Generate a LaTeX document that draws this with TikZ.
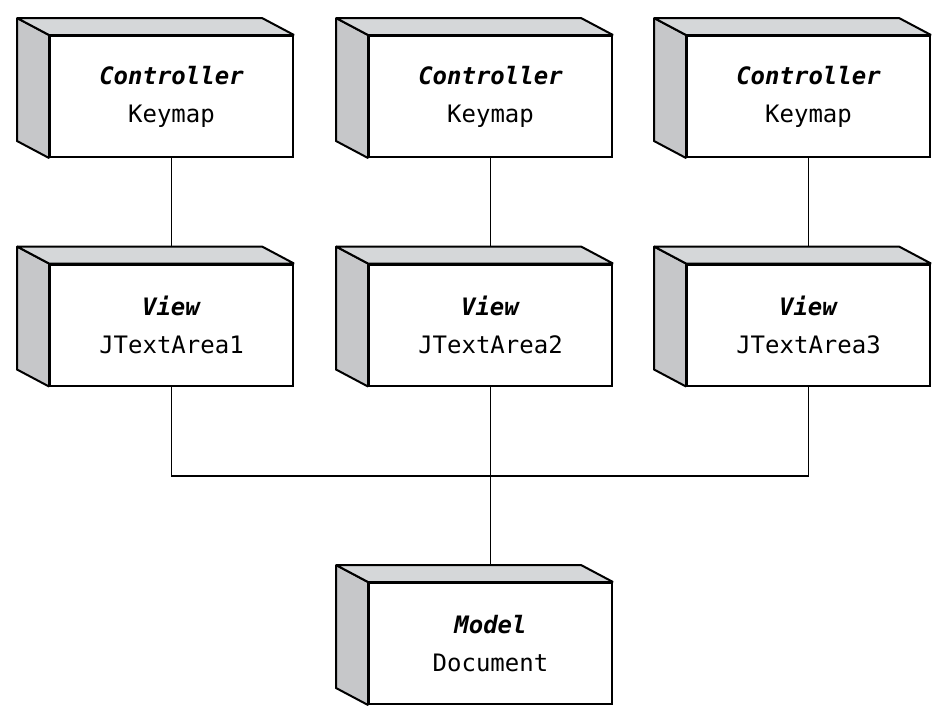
\documentclass[tikz,border=0pt]{standalone}
\usepackage{fontspec}
\setmonofont{DejaVu Sans Mono}
\usepackage{xcolor}
\usepackage{tikz}
\usetikzlibrary{
    positioning,
    calc,
    backgrounds,
}
\definecolor{sidegray}{RGB}{198,199,201}
\definecolor{topgray}{RGB}{213,215,217}
\tikzset{
    % Box styles
    crate/.style={rectangle, draw, line width=2pt, fill=white,
                  minimum width=243pt, minimum height=121pt, inner sep=0pt,
                  align=center, font=\ttfamily\fontsize{24}{38}\selectfont},
    face/.style={draw, line width=2pt, line join=miter, miter limit=1.5},
    % Connector styles
    link/.style={line width=1.8pt},
}
\newcommand{\role}[1]{\textbf{\textit{#1}}}

\begin{document}
\begin{tikzpicture}[x=1pt, y=-1pt]
    \useasboundingbox (0,0) rectangle (940,720);

    % Controllers and views
    \foreach \x/\i in {171.5/1, 490.5/2, 808.5/3} {
        \node[crate] (ctrl\i) at (\x, 96.5) {\role{Controller}\\Keymap};
        \node[crate] (view\i) at (\x, 325) {\role{View}\\JTextArea\i};
    }

    % Model
    \node[crate] (model) at (490.5, 643.5) {\role{Model}\\Document};

    % Depth faces
    \foreach \n in {ctrl1, ctrl2, ctrl3, view1, view2, view3, model} {
        \filldraw[face, fill=sidegray] (\n.north west) -- ++(-32,-17)
            -- ($(\n.south west)+(-32,-17)$) -- (\n.south west) -- cycle;
        \filldraw[face, fill=topgray] (\n.north west) -- ++(-32,-17)
            -- ($(\n.north east)+(-32,-17)$) -- (\n.north east) -- cycle;
    }

    % Connectors
    \coordinate (joint) at (490.5, 476);
    \begin{scope}[on background layer]
        \foreach \i in {1,2,3} {
            \draw[link] (ctrl\i.south) -- (view\i.north);
        }
        \draw[link] (view1.south) |- (joint);
        \draw[link] (view3.south) |- (joint);
        \draw[link] (view2.south) -- (model.north);
    \end{scope}
\end{tikzpicture}
\end{document}
